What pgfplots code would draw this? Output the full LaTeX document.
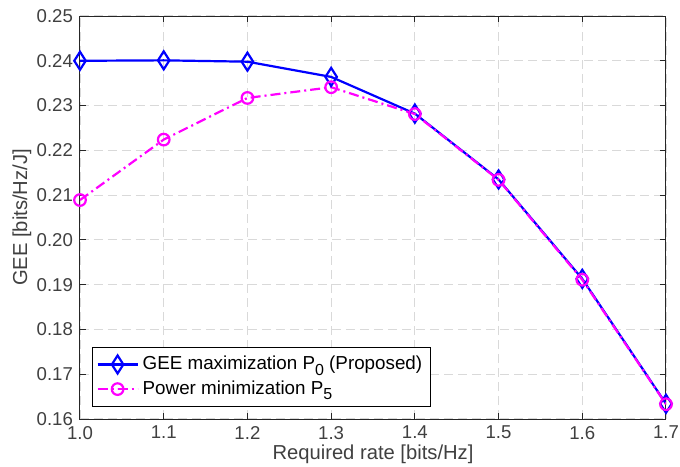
\documentclass[border=0pt]{standalone}
\usepackage{fontspec}
\setmainfont{Liberation Sans}
\usepackage{pgfplots}
\pgfplotsset{compat=1.18}
\definecolor{axgray}{HTML}{262626}
\definecolor{txtgray}{HTML}{404040}
\definecolor{gridgray}{HTML}{D9D9D9}
\definecolor{mblue}{rgb}{0,0,1}
\definecolor{mmag}{rgb}{1,0,1}
\newcommand{\sub}[1]{\raisebox{-0.55ex}{\fontsize{8}{9}\selectfont #1}}
\begin{document}
\begin{tikzpicture}
\useasboundingbox (-40pt,-23.5pt) rectangle (300pt,209.5pt);
\begin{axis}[
  at={(0,0)}, anchor=south west,
  scale only axis, width=293pt, height=201.5pt,
  xmin=1, xmax=1.7, ymin=0.16, ymax=0.25,
  xtick={1.0,1.1,1.2,1.3,1.4,1.5,1.6,1.7},
  ytick={0.16,0.17,0.18,0.19,0.20,0.21,0.22,0.23,0.24,0.25},
  xticklabel style={/pgf/number format/.cd, fixed, fixed zerofill, precision=1},
  yticklabel style={/pgf/number format/.cd, fixed, fixed zerofill, precision=2},
  /pgf/number format/assume math mode=true,
  tick align=inside, major tick length=3pt,
  grid=major,
  major grid style={gridgray, dash pattern=on 4.5pt off 2.5pt, line width=0.6pt},
  axis line style={axgray, line width=0.5pt},
  tick style={axgray, line width=0.5pt},
  ticklabel style={font=\fontsize{9.3}{11}\selectfont, text=txtgray},
  xlabel={Required rate [bits/Hz]},
  ylabel={GEE [bits/Hz/J]},
  every axis x label/.style={at={(axis description cs:0.5,0)}, yshift=-17.5pt, anchor=center, font=\fontsize{10.1}{12}\selectfont, text=txtgray},
  every axis y label/.style={at={(axis description cs:0,0.5)}, xshift=-29pt, rotate=90, anchor=center, font=\fontsize{10.1}{12}\selectfont, text=txtgray},
  legend style={at={(axis description cs:0.0205,0.03)}, anchor=south west, draw=black, line width=0.5pt, font=\fontsize{9.4}{11}\selectfont, text=black, inner xsep=2pt, inner ysep=2.5pt, row sep=0pt},
  legend cell align=left,
  legend image code/.code={\draw[mark repeat=2, mark phase=2] plot coordinates {(0pt,0pt) (10pt,0pt) (20pt,0pt)};},
]
\addplot[mblue, line width=1.1pt, mark=diamond, mark size=4.5pt, mark options={solid, xscale=0.85}]
  coordinates {(1.0,0.2400) (1.1,0.2401) (1.2,0.2398) (1.3,0.2364) (1.4,0.2282) (1.5,0.2135) (1.6,0.1913) (1.7,0.1634)};
\addlegendentry{GEE maximization P\sub{0} (Proposed)\hspace{11pt}}
\addplot[mmag, line width=1.1pt, dash pattern=on 5pt off 2pt on 1pt off 2pt, mark=o, mark size=2.9pt, mark options={solid}]
  coordinates {(1.0,0.2089) (1.1,0.2224) (1.2,0.2317) (1.3,0.2341) (1.4,0.2281) (1.5,0.2134) (1.6,0.1911) (1.7,0.1633)};
\addlegendentry{Power minimization P\sub{5}}
\end{axis}
\end{tikzpicture}
\end{document}
